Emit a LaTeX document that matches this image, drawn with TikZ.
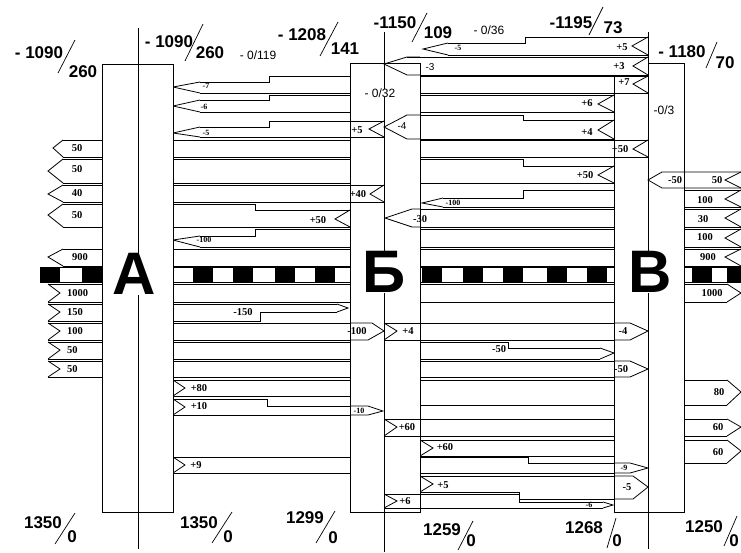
\documentclass[tikz,border=0pt]{standalone}
\usepackage{fontspec}
\setmainfont{Liberation Serif}
\newfontfamily\sansf{Liberation Sans}
\begin{document}
\begin{tikzpicture}[x=1pt,y=-1pt,
  ln/.style={line width=0.8pt,line join=miter},
  bx/.style={draw,fill=white,line width=0.9pt},
  cl/.style={line width=0.9pt},
  sl/.style={line width=0.7pt},
  lab/.style={font=\bfseries\fontsize{10.5}{12}\selectfont,inner sep=0pt},
  sm/.style={font=\bfseries\fontsize{8}{9}\selectfont,inner sep=0pt},
  big/.style={font=\sansf\bfseries\fontsize{17}{18}\selectfont,inner sep=0pt},
  mid/.style={font=\sansf\fontsize{12}{13}\selectfont,inner sep=0pt},
  sn/.style={font=\sansf\fontsize{10}{11}\selectfont,inner sep=0pt},
  letter/.style={font=\sansf\bfseries\fontsize{60}{60}\selectfont,inner sep=0pt,fill=white}
]
\useasboundingbox (0,0) rectangle (741,552);
% ---------- bar
\draw[ln] (40,267) rectangle (745,282);
\foreach \a in {40,82,193,233,275,315,422,463,503,547,587,692,727}{
  \fill (\a,267) rectangle ++(20,15);
}
% ---------- bands (layer 1)
% B1
\draw[ln] (448,43)--(525,43)--(525,37)--(648,37);
\draw[ln] (448,55)--(648,55);
\draw[ln] (448,43)--(423,49)--(448,55);
\draw[ln] (648,37)--(632,46)--(648,55);
% B2
\draw[ln] (407,57)--(648,57);
\draw[ln] (407,75)--(648,75);
\draw[ln] (648,57)--(633,66)--(648,75);
% B3
\draw[ln] (200,82)--(269,82)--(269,76)--(648,76);
\draw[ln] (200,93)--(648,93);
\draw[ln] (200,82)--(173,87)--(200,93);
% B4
\draw[ln] (200,100)--(269,100)--(269,95)--(614,95);
\draw[ln] (200,112)--(614,112);
\draw[ln] (200,100)--(173,106)--(200,112);
\draw[ln] (614,95)--(598,104)--(614,112);
% B5
\draw[ln] (200,127)--(269,127)--(269,121)--(384,121);
\draw[ln] (200,137)--(384,137);
\draw[ln] (200,127)--(173,133)--(200,137);
% B6
\draw[ln] (407,115)--(523,115)--(523,120)--(614,120);
\draw[ln] (407,139)--(614,139);
\draw[ln] (614,120)--(598,130)--(614,139);
% B7
\draw[ln] (63,140)--(648,140);
\draw[ln] (63,157)--(648,157);
\draw[ln] (63,140)--(53,148)--(63,157);
% B8
\draw[ln] (63,159)--(523,159)--(523,166)--(614,166);
\draw[ln] (63,183)--(614,183);
\draw[ln] (63,159)--(48,171)--(63,183);
\draw[ln] (614,166)--(598,175)--(614,183);
% B9
\draw[ln] (63,185)--(384,185);
\draw[ln] (63,202)--(384,202);
\draw[ln] (63,185)--(48,194)--(63,202);
% B10
\draw[ln] (63,204)--(255,204)--(255,210)--(350,210);
\draw[ln] (63,227)--(350,227);
\draw[ln] (63,204)--(48,215)--(63,227);
\draw[ln] (350,210)--(335,219)--(350,227);
% B11
\draw[ln] (741,229)--(255,229)--(255,236)--(200,236);
\draw[ln] (741,247)--(200,247);
\draw[ln] (200,236)--(173,240)--(200,247);
\draw[ln] (741,229)--(725,238)--(741,247);
% B12
\draw[ln] (741,209)--(412,209);
\draw[ln] (741,227)--(412,227);
\draw[ln] (741,209)--(725,218)--(741,227);
% B13
\draw[ln] (443,198)--(523,198)--(523,190)--(741,190);
\draw[ln] (443,207)--(741,207);
\draw[ln] (443,198)--(422,203)--(443,207);
\draw[ln] (741,190)--(725,199)--(741,207);
% B15
\draw[ln] (63,249)--(741,249);
\draw[ln] (63,266)--(741,266);
\draw[ln] (63,249)--(48,257)--(63,266);
\draw[ln] (741,249)--(725,257)--(741,266);
% B16
\draw[ln] (48,284)--(727,284);
\draw[ln] (48,302)--(727,302);
\draw[ln] (48,284)--(60,293)--(48,302);
\draw[ln] (727,284)--(741,293)--(727,302);
% B17
\draw[ln] (48,304)--(337,304);
\draw[ln] (48,321)--(260,321)--(260,312)--(337,312);
\draw[ln] (48,304)--(60,312)--(48,321);
\draw[ln] (337,304)--(348,308)--(337,312);
% B18
\draw[ln] (48,323)--(372,323);
\draw[ln] (48,340)--(368,340);
\draw[ln] (48,323)--(60,331)--(48,340);
% B19
\draw[ln] (384,323)--(630,323);
\draw[ln] (420,340)--(630,340);
% B20
\draw[ln] (48,342)--(508,342)--(508,348)--(600,348);
\draw[ln] (48,359)--(600,359);
\draw[ln] (48,342)--(60,350)--(48,359);
\draw[ln] (600,348)--(614,353)--(600,359);
% B21
\draw[ln] (48,361)--(630,361);
\draw[ln] (48,377)--(630,377);
\draw[ln] (48,361)--(60,369)--(48,377);
% B22
\draw[ln] (173,380)--(727,380);
\draw[ln] (173,396)--(384,396)--(384,405)--(727,405);
\draw[ln] (173,380)--(185,388)--(173,396);
\draw[ln] (727,380)--(741,392)--(727,405);
% B23
\draw[ln] (173,399)--(267,399)--(267,406)--(368,406);
\draw[ln] (173,415)--(368,415);
\draw[ln] (173,399)--(185,407)--(173,415);
% B24
\draw[ln] (173,457)--(528,457)--(528,463)--(630,463);
\draw[ln] (173,473)--(630,473);
\draw[ln] (173,457)--(185,465)--(173,473);
% B25
\draw[ln] (384,419)--(727,419);
\draw[ln] (384,436)--(727,436);
\draw[ln] (727,419)--(741,427)--(727,436);
% B26
\draw[ln] (420,440)--(727,440);
\draw[ln] (420,456)--(650,456)--(650,463)--(727,463);
\draw[ln] (420,440)--(433,448)--(420,456);
\draw[ln] (727,440)--(741,451)--(727,463);
% B27
\draw[ln] (420,476)--(633,476);
\draw[ln] (420,492)--(519,492)--(519,499)--(633,499);
\draw[ln] (420,476)--(433,484)--(420,492);
% B28
\draw[ln] (384,494)--(519,494)--(519,502)--(603,502);
\draw[ln] (384,508)--(603,508);
\draw[ln] (603,502)--(613,505)--(603,508);
% ---------- boxes (layer 2)
\draw[bx] (102,64) rectangle (173,512);
\draw[bx] (350,63) rectangle (420,512);
\draw[bx] (614,76)--(614,512)--(684,512)--(684,63)--(648,63)--(648,76)--cycle;
% ---------- visible parts inside boxes (layer 3)
\draw[ln] (420,57)--(407,57)--(384,64)--(407,75)--(420,75);
\draw[ln] (614,76)--(648,76) (614,93)--(648,93);
\draw[ln] (648,76)--(633,84)--(648,93);
\draw[ln] (350,121)--(384,121) (350,137)--(384,137);
\draw[ln] (384,121)--(369,129)--(384,137);
\draw[ln] (420,115)--(407,115)--(384,127)--(407,139)--(420,139);
\draw[ln] (614,140)--(648,140) (614,157)--(648,157);
\draw[ln] (648,140)--(633,149)--(648,157);
\draw[ln] (350,185)--(384,185) (350,202)--(384,202);
\draw[ln] (384,185)--(370,194)--(384,202);
\draw[ln] (420,209)--(412,209)--(385,218)--(412,227)--(420,227);
\draw[ln] (741,172)--(662,172)--(648,180)--(662,188)--(741,188);
\draw[ln] (741,172)--(725,180)--(741,188);
\draw[ln] (350,323)--(372,323)--(384,331)--(368,340)--(350,340);
\draw[ln] (384,323)--(420,323) (384,340)--(420,340);
\draw[ln] (384,323)--(397,331)--(384,340);
\draw[ln] (614,323)--(630,323)--(648,331)--(630,340)--(614,340);
\draw[ln] (614,361)--(630,361)--(648,369)--(630,377)--(614,377);
\draw[ln] (350,406)--(368,406)--(383,411)--(368,415)--(350,415);
\draw[ln] (614,463)--(630,463)--(648,468)--(630,473)--(614,473);
\draw[ln] (384,419)--(420,419) (384,436)--(420,436);
\draw[ln] (384,419)--(397,427)--(384,436);
\draw[ln] (614,476)--(633,476)--(648,487)--(633,499)--(614,499);
\draw[ln] (384,494)--(420,494) (384,508)--(420,508);
\draw[ln] (384,494)--(397,501)--(384,508);
% ---------- centre lines
\draw[cl] (138,28)--(138,549);
\draw[cl] (384,32)--(384,552);
\draw[cl] (648,32)--(648,549);
% ---------- letters
\node[letter] (LA) at (134,274) {А};
\node[letter] (LB) at (384,272) {Б};
\node[letter] (LV) at (650,272) {В};
% ---------- box inner labels
\node[mid,fill=white] (k1) at (380,93) {- 0/32};
\node[mid] (k2) at (664,110) {-0/3};
% ---------- top fractions
\node[big] (f1a) at (39,53) {- 1090};
\draw[sl] (75,40)--(58,73);
\node[big] (f1b) at (83,72) {260};
\node[big] (f2a) at (169,42) {- 1090};
\draw[sl] (203,24)--(185,61);
\node[big] (f2b) at (210,53) {260};
\node[mid] (f0a) at (258,55) {- 0/119};
\node[big] (f3a) at (302,35) {- 1208};
\draw[sl] (338,22)--(320,56);
\node[big] (f3b) at (345,49) {141};
\node[big] (f4a) at (395,23) {-1150};
\draw[sl] (427,13)--(412,42);
\node[big] (f4b) at (438,33) {109};
\node[mid] (f0b) at (489,30) {- 0/36};
\node[big] (f5a) at (571,23) {-1195};
\draw[sl] (603,7)--(589,35);
\node[big] (f5b) at (613,28) {73};
\node[big] (f6a) at (682,52) {- 1180};
\draw[sl] (717,42)--(706,68);
\node[big] (f6b) at (725,63) {70};
% ---------- bottom fractions
\node[big] (g1a) at (43,523) {1350};
\draw[sl] (75,513)--(55,544);
\node[big] (g1b) at (72,537) {0};
\node[big] (g2a) at (199,523) {1350};
\draw[sl] (232,512)--(212,543);
\node[big] (g2b) at (228,537) {0};
\node[big] (g3a) at (305,518) {1299};
\draw[sl] (335,511)--(316,543);
\node[big] (g3b) at (333,538) {0};
\node[big] (g4a) at (442,530) {1259};
\draw[sl] (473,521)--(458,550);
\node[big] (g4b) at (471,541) {0};
\node[big] (g5a) at (584,528) {1268};
\draw[sl] (616,518)--(607,548);
\node[big] (g5b) at (617,541) {0};
\node[big] (g6a) at (704,527) {1250};
\draw[sl] (737,516)--(724,546);
\node[big] (g6b) at (734,541) {0};
% ---------- band labels
\node[sm] (a1) at (458,48) {-5};
\node[lab] (a2) at (622,47) {+5};
\node[sn] (a3) at (430,67) {-3};
\node[lab] (a4) at (619,66) {+3};
\node[sm] (a5) at (206,86) {-7};
\node[lab] (a6) at (624,82) {+7};
\node[sm] (a7) at (204,107) {-6};
\node[lab] (a8) at (587,103) {+6};
\node[sm] (a9) at (206,133) {-5};
\node[lab] (a10) at (357,130) {+5};
\node[sn] (a11) at (402,126) {-4};
\node[lab] (a12) at (587,132) {+4};
\node[lab] (a13) at (77,148) {50};
\node[lab] (a14) at (77,169) {50};
\node[lab] (a15) at (77,193) {40};
\node[lab] (a16) at (77,215) {50};
\node[lab] (a17) at (80,257) {900};
\node[lab] (a18) at (620,149) {+50};
\node[lab] (a19) at (585,175) {+50};
\node[lab] (a20) at (358,194) {+40};
\node[lab] (a21) at (318,220) {+50};
\node[sm] (a22) at (204,240) {-100};
\node[sm] (a23) at (453,203) {-100};
\node[lab] (a24) at (420,219) {-30};
\node[lab] (a25) at (675,180) {-50};
\node[lab] (a26) at (717,180) {50};
\node[lab] (a27) at (705,200) {100};
\node[lab] (a28) at (703,219) {30};
\node[lab] (a29) at (705,237) {100};
\node[lab] (a30) at (708,257) {900};
\node[lab,anchor=west] (b1) at (67,293) {1000};
\node[lab,anchor=west] (b2) at (67,312) {150};
\node[lab,anchor=west] (b3) at (67,331) {100};
\node[lab,anchor=west] (b4) at (67,350) {50};
\node[lab,anchor=west] (b5) at (67,369) {50};
\node[lab] (b6) at (243,312) {-150};
\node[lab] (b7) at (357,331) {-100};
\node[lab] (b8) at (408,331) {+4};
\node[lab] (b9) at (499,349) {-50};
\node[lab] (b10) at (623,331) {-4};
\node[lab] (b11) at (621,369) {-50};
\node[lab] (b12) at (712,293) {1000};
\node[lab] (b13) at (199,388) {+80};
\node[lab] (b14) at (719,392) {80};
\node[lab] (b15) at (199,406) {+10};
\node[sm] (b16) at (359,411) {-10};
\node[lab] (b17) at (196,465) {+9};
\node[lab] (b18) at (407,427) {+60};
\node[lab] (b19) at (445,447) {+60};
\node[lab] (b20) at (443,485) {+5};
\node[lab] (b21) at (405,501) {+6};
\node[sm] (b22) at (624,468) {-9};
\node[lab] (b23) at (627,487) {-5};
\node[sm] (b24) at (589,505) {-6};
\node[lab] (b25) at (718,427) {60};
\node[lab] (b26) at (718,452) {60};
\end{tikzpicture}
\end{document}
